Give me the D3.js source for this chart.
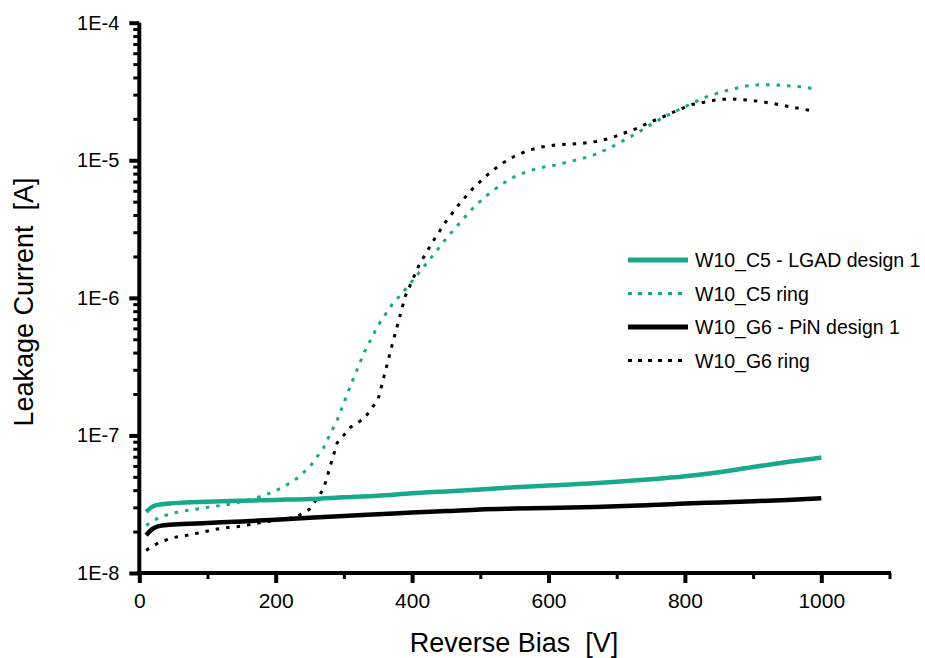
<!DOCTYPE html>
<html>
<head>
<meta charset="utf-8">
<script src="https://cdn.jsdelivr.net/npm/d3@7"></script>
<style>
  body { margin: 0; background: #fff; }
  svg { display: block; font-family: "Liberation Sans", Arial, sans-serif; }
</style>
</head>
<body>
<svg id="chart" width="925" height="658"></svg>
<script>
// ---- data ----
const ringVoltage = [10,30,50,70,90,110,130,150,170,190,210,230,250,270,290,310,330,350,370,390,
  410,430,450,470,490,510,530,550,570,590,610,630,650,670,690,710,730,750,770,790,
  810,830,850,870,890,910,930,950,970,990];
const c5Ring = [2.22e-8,2.55e-8,2.73e-8,2.85e-8,2.95e-8,3.05e-8,3.15e-8,3.3e-8,3.5e-8,3.78e-8,
  4.18e-8,4.83e-8,5.9e-8,8.1e-8,1.29e-7,2.32e-7,4.03e-7,6.3e-7,8.85e-7,1.15e-6,
  1.52e-6,2.02e-6,2.70e-6,3.51e-6,4.54e-6,5.58e-6,6.63e-6,7.59e-6,8.34e-6,8.87e-6,
  9.22e-6,9.75e-6,1.03e-5,1.11e-5,1.23e-5,1.39e-5,1.58e-5,1.82e-5,2.07e-5,2.32e-5,
  2.59e-5,2.87e-5,3.10e-5,3.30e-5,3.47e-5,3.54e-5,3.54e-5,3.48e-5,3.43e-5,3.30e-5];
const g6Ring = [1.46e-8,1.68e-8,1.81e-8,1.88e-8,1.97e-8,2.07e-8,2.14e-8,2.19e-8,2.29e-8,2.38e-8,
  2.45e-8,2.55e-8,2.92e-8,4.06e-8,8.8e-8,1.15e-7,1.33e-7,1.82e-7,4.4e-7,1.03e-6,
  1.72e-6,2.55e-6,3.61e-6,4.86e-6,6.31e-6,7.8e-6,9.37e-6,1.07e-5,1.18e-5,1.25e-5,
  1.29e-5,1.31e-5,1.33e-5,1.37e-5,1.44e-5,1.57e-5,1.71e-5,1.90e-5,2.09e-5,2.32e-5,
  2.54e-5,2.65e-5,2.77e-5,2.79e-5,2.74e-5,2.68e-5,2.58e-5,2.47e-5,2.37e-5,2.27e-5];
const padVoltage = [10,20,30,50,100,150,200,250,300,350,400,450,500,550,600,650,700,750,800,850,900,950,1000];
const c5Lgad = [2.78e-8,3.05e-8,3.15e-8,3.22e-8,3.3e-8,3.35e-8,3.4e-8,3.45e-8,3.55e-8,3.65e-8,3.8e-8,3.92e-8,
  4.05e-8,4.2e-8,4.32e-8,4.45e-8,4.6e-8,4.8e-8,5.05e-8,5.4e-8,5.9e-8,6.4e-8,6.9e-8];
const g6Pin = [1.88e-8,2.1e-8,2.2e-8,2.25e-8,2.31e-8,2.37e-8,2.44e-8,2.52e-8,2.6e-8,2.67e-8,2.75e-8,2.82e-8,
  2.9e-8,2.94e-8,2.97e-8,3.01e-8,3.05e-8,3.12e-8,3.2e-8,3.26e-8,3.32e-8,3.4e-8,3.5e-8];
const seriesNames = ["W10_C5 - LGAD design 1","W10_C5 ring","W10_G6 - PiN design 1","W10_G6 ring"];
const xMajorTicks = [0,200,400,600,800,1000];
const xMinorTicks = [100,300,500,700,900,1100];
const yMajorTicks = [1e-8,1e-7,1e-6,1e-5,1e-4];
const yTickLabels = ["1E-8","1E-7","1E-6","1E-5","1E-4"];

// ---- drawing ----
const GREEN = "#17a98a", BLACK = "#000";
const svg = d3.select("#chart");
const x = d3.scaleLinear().domain([0,1100]).range([139.3,889.5]);
const y = d3.scaleLog().domain([1e-8,1e-4]).range([573,22.7]);

const series = [
  {name: seriesNames[0], xs: padVoltage, ys: c5Lgad, color: GREEN, dash: null, w: 4.5},
  {name: seriesNames[1], xs: ringVoltage, ys: c5Ring, color: GREEN, dash: "3.5,7", w: 3},
  {name: seriesNames[2], xs: padVoltage, ys: g6Pin, color: BLACK, dash: null, w: 4.5},
  {name: seriesNames[3], xs: ringVoltage, ys: g6Ring, color: BLACK, dash: "3.5,7", w: 3}
];

const lineRing = d3.line().x(d => x(d[0])).y(d => y(d[1]));
const linePad = d3.line().x(d => x(d[0])).y(d => y(d[1])).curve(d3.curveMonotoneX);
[series[1], series[3], series[0], series[2]].forEach(s => {
  svg.append("path")
    .datum(s.xs.map((v,i) => [v, s.ys[i]]))
    .attr("fill","none")
    .attr("stroke", s.color)
    .attr("stroke-width", s.w)
    .attr("stroke-linejoin","round")
    .attr("stroke-dasharray", s.dash)
    .attr("d", s.dash ? lineRing : linePad);
});

// y minor ticks
const yMinor = [];
for (let e = -8; e < -4; e++) for (let m = 2; m <= 9; m++) yMinor.push(m * Math.pow(10, e));

const yMinorAxis = d3.axisLeft(y).tickValues(yMinor).tickSize(6).tickSizeOuter(0).tickFormat("");
const gyMin = svg.append("g").attr("transform","translate(139.3,0)").call(yMinorAxis);
gyMin.select(".domain").remove();
gyMin.selectAll(".tick line").attr("stroke-width",3);

const yAxis = d3.axisLeft(y).tickValues(yMajorTicks).tickSize(10).tickSizeOuter(0).tickPadding(10)
  .tickFormat((d,i) => yTickLabels[i]);
const gy = svg.append("g").attr("transform","translate(139.3,0)").call(yAxis);
gy.select(".domain").remove();
gy.selectAll(".tick line").attr("stroke-width",4);
gy.selectAll(".tick text").attr("font-size",20).attr("fill","#000")
  .attr("font-family","'Liberation Sans', Arial, sans-serif");

const xMinorAxis = d3.axisBottom(x).tickValues(xMinorTicks).tickSize(6).tickSizeOuter(0).tickFormat("");
const gxMin = svg.append("g").attr("transform","translate(0,573)").call(xMinorAxis);
gxMin.select(".domain").remove();
gxMin.selectAll(".tick line").attr("stroke-width",3);

const xAxis = d3.axisBottom(x).tickValues(xMajorTicks).tickSize(10).tickSizeOuter(0).tickPadding(10)
  .tickFormat(d3.format("d"));
const gx = svg.append("g").attr("transform","translate(0,573)").call(xAxis);
gx.select(".domain").remove();
gx.selectAll(".tick line").attr("stroke-width",4);
gx.selectAll(".tick text").attr("font-size",21).attr("fill","#000")
  .attr("font-family","'Liberation Sans', Arial, sans-serif");

// axis lines
svg.append("line").attr("x1",x(0)).attr("x2",x(0)).attr("y1",y(1e-8)+2).attr("y2",y(1e-4))
  .attr("stroke","#000").attr("stroke-width",4);
svg.append("line").attr("x1",x(0)-2).attr("x2",x(1100)+1.5).attr("y1",y(1e-8)).attr("y2",y(1e-8))
  .attr("stroke","#000").attr("stroke-width",4);

// axis titles
svg.append("text").attr("x",514).attr("y",652).attr("text-anchor","middle")
  .attr("font-size",27).text("Reverse Bias  [V]").style("white-space","pre");
svg.append("text").attr("transform","translate(33,302) rotate(-90)").attr("text-anchor","middle")
  .attr("font-size",27).text("Leakage Current  [A]").style("white-space","pre");

// legend
const legY = [260, 293.5, 327, 360.5];
series.forEach((s,i) => {
  svg.append("line").attr("x1",628).attr("x2",688).attr("y1",legY[i]).attr("y2",legY[i])
    .attr("stroke", s.color).attr("stroke-width", s.dash ? 3 : 5).attr("stroke-dasharray", s.dash ? "4,6" : null);
  svg.append("text").attr("x",695).attr("y",legY[i]+7).attr("font-size",19.5).text(s.name);
});
</script>
</body>
</html>
